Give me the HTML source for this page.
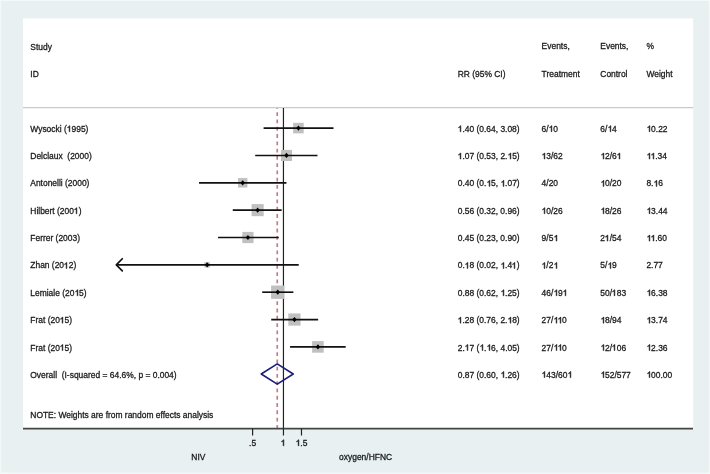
<!DOCTYPE html>
<html><head><meta charset="utf-8"><style>
html,body{margin:0;padding:0;width:710px;height:474px;overflow:hidden;background:#e8f0f2;}
svg{display:block;will-change:transform;}
tspan.o{fill-opacity:0;stroke-opacity:0;}
.one{fill:#1a1a1a;stroke:#1a1a1a;}
text{font-family:"Liberation Sans",sans-serif;font-size:8.45px;stroke:#1a1a1a;stroke-width:0.28px;}
</style></head><body>
<svg width="710" height="474" viewBox="0 0 710 474">
<rect x="0" y="0" width="710" height="474" fill="#e8f0f2"/>
<rect x="0" y="0" width="710" height="1" fill="#f4f8f9"/>
<rect x="0" y="472.5" width="710" height="1.5" fill="#f4f8f9"/>
<rect x="0" y="0" width="1.2" height="474" fill="#f4f8f9"/>
<rect x="709" y="0" width="1" height="474" fill="#f4f8f9"/>
<rect x="23" y="18.4" width="670.2" height="410" fill="#ffffff"/>
<line x1="23" y1="107.6" x2="693.2" y2="107.6" stroke="#cbcbcb" stroke-width="1.4"/>
<text x="30.30" y="49.60" text-anchor="start" fill="#1a1a1a">Study</text>
<text x="30.30" y="76.90" text-anchor="start" fill="#1a1a1a">ID</text>
<text x="457.70" y="76.60" text-anchor="start" fill="#1a1a1a">RR (95% CI)</text>
<text x="541.60" y="49.30" text-anchor="start" fill="#1a1a1a">Events,</text>
<text x="541.60" y="76.80" text-anchor="start" fill="#1a1a1a">Treatment</text>
<text x="600.30" y="49.30" text-anchor="start" fill="#1a1a1a">Events,</text>
<text x="600.30" y="76.80" text-anchor="start" fill="#1a1a1a">Control</text>
<text x="646.40" y="49.30" text-anchor="start" fill="#1a1a1a">%</text>
<text x="646.40" y="76.80" text-anchor="start" fill="#1a1a1a">Weight</text>
<line x1="283.45" y1="108" x2="283.45" y2="428.5" stroke="#222" stroke-width="1.2"/>
<line x1="277.25" y1="108" x2="277.25" y2="428" stroke="#c67c88" stroke-width="1.7" stroke-dasharray="3.8 3.47" stroke-dashoffset="2.97"/>
<rect x="293.15" y="122.83" width="10.55" height="10.55" fill="#c0c0c0"/>
<line x1="263.59" y1="128.10" x2="333.51" y2="128.10" stroke="#111" stroke-width="1.65"/>
<path d="M296.17,128.10 L298.42,125.50 L300.67,128.10 L298.42,130.70 Z" fill="#000"/>
<text x="30.30" y="131.70" text-anchor="start" fill="#1a1a1a">Wysocki (<tspan class="o">1</tspan>995)</text>
<text x="457.70" y="131.70" text-anchor="start" fill="#1a1a1a"><tspan class="o">1</tspan>.40 (0.64, 3.08)</text>
<text x="541.60" y="131.70" text-anchor="start" fill="#1a1a1a">6/<tspan class="o">1</tspan>0</text>
<text x="600.30" y="131.70" text-anchor="start" fill="#1a1a1a">6/<tspan class="o">1</tspan>4</text>
<text x="646.40" y="131.70" text-anchor="start" fill="#1a1a1a"><tspan class="o">1</tspan>0.22</text>
<rect x="280.90" y="149.89" width="11.11" height="11.11" fill="#c0c0c0"/>
<line x1="255.20" y1="155.45" x2="317.51" y2="155.45" stroke="#111" stroke-width="1.65"/>
<path d="M284.21,155.45 L286.46,152.85 L288.71,155.45 L286.46,158.05 Z" fill="#000"/>
<text x="30.30" y="159.05" text-anchor="start" fill="#1a1a1a">Delclaux  (2000)</text>
<text x="457.70" y="159.05" text-anchor="start" fill="#1a1a1a"><tspan class="o">1</tspan>.07 (0.53, 2.<tspan class="o">1</tspan>5)</text>
<text x="541.60" y="159.05" text-anchor="start" fill="#1a1a1a"><tspan class="o">1</tspan>3/62</text>
<text x="600.30" y="159.05" text-anchor="start" fill="#1a1a1a"><tspan class="o">1</tspan>2/6<tspan class="o">1</tspan></text>
<text x="646.40" y="159.05" text-anchor="start" fill="#1a1a1a"><tspan class="o">1</tspan><tspan class="o">1</tspan>.34</text>
<rect x="237.96" y="178.09" width="9.43" height="9.43" fill="#c0c0c0"/>
<line x1="199.03" y1="182.80" x2="286.46" y2="182.80" stroke="#111" stroke-width="1.65"/>
<path d="M240.43,182.80 L242.68,180.20 L244.93,182.80 L242.68,185.40 Z" fill="#000"/>
<text x="30.30" y="186.40" text-anchor="start" fill="#1a1a1a">Antonelli (2000)</text>
<text x="457.70" y="186.40" text-anchor="start" fill="#1a1a1a">0.40 (0.<tspan class="o">1</tspan>5, <tspan class="o">1</tspan>.07)</text>
<text x="541.60" y="186.40" text-anchor="start" fill="#1a1a1a">4/20</text>
<text x="600.30" y="186.40" text-anchor="start" fill="#1a1a1a"><tspan class="o">1</tspan>0/20</text>
<text x="646.40" y="186.40" text-anchor="start" fill="#1a1a1a">8.<tspan class="o">1</tspan>6</text>
<rect x="251.60" y="204.10" width="12.10" height="12.10" fill="#c0c0c0"/>
<line x1="232.75" y1="210.15" x2="281.63" y2="210.15" stroke="#111" stroke-width="1.65"/>
<path d="M255.40,210.15 L257.65,207.55 L259.90,210.15 L257.65,212.75 Z" fill="#000"/>
<text x="30.30" y="213.75" text-anchor="start" fill="#1a1a1a">Hilbert (200<tspan class="o">1</tspan>)</text>
<text x="457.70" y="213.75" text-anchor="start" fill="#1a1a1a">0.56 (0.32, 0.96)</text>
<text x="541.60" y="213.75" text-anchor="start" fill="#1a1a1a"><tspan class="o">1</tspan>0/26</text>
<text x="600.30" y="213.75" text-anchor="start" fill="#1a1a1a"><tspan class="o">1</tspan>8/26</text>
<text x="646.40" y="213.75" text-anchor="start" fill="#1a1a1a"><tspan class="o">1</tspan>3.44</text>
<rect x="242.30" y="231.88" width="11.24" height="11.24" fill="#c0c0c0"/>
<line x1="218.05" y1="237.50" x2="278.76" y2="237.50" stroke="#111" stroke-width="1.65"/>
<path d="M245.67,237.50 L247.92,234.90 L250.17,237.50 L247.92,240.10 Z" fill="#000"/>
<text x="30.30" y="241.10" text-anchor="start" fill="#1a1a1a">Ferrer (2003)</text>
<text x="457.70" y="241.10" text-anchor="start" fill="#1a1a1a">0.45 (0.23, 0.90)</text>
<text x="541.60" y="241.10" text-anchor="start" fill="#1a1a1a">9/5<tspan class="o">1</tspan></text>
<text x="600.30" y="241.10" text-anchor="start" fill="#1a1a1a">2<tspan class="o">1</tspan>/54</text>
<text x="646.40" y="241.10" text-anchor="start" fill="#1a1a1a"><tspan class="o">1</tspan><tspan class="o">1</tspan>.60</text>
<rect x="204.40" y="262.10" width="5.49" height="5.49" fill="#c0c0c0"/>
<polyline points="122.3,258.75 116.3,264.85 122.3,270.95" fill="none" stroke="#111" stroke-width="1.7" stroke-linejoin="round" stroke-linecap="round"/>
<line x1="116.30" y1="264.85" x2="298.74" y2="264.85" stroke="#111" stroke-width="1.65"/>
<path d="M204.89,264.85 L207.14,262.25 L209.39,264.85 L207.14,267.45 Z" fill="#000"/>
<text x="30.30" y="268.45" text-anchor="start" fill="#1a1a1a">Zhan (20<tspan class="o">1</tspan>2)</text>
<text x="457.70" y="268.45" text-anchor="start" fill="#1a1a1a">0.<tspan class="o">1</tspan>8 (0.02, <tspan class="o">1</tspan>.4<tspan class="o">1</tspan>)</text>
<text x="541.60" y="268.45" text-anchor="start" fill="#1a1a1a"><tspan class="o">1</tspan>/2<tspan class="o">1</tspan></text>
<text x="600.30" y="268.45" text-anchor="start" fill="#1a1a1a">5/<tspan class="o">1</tspan>9</text>
<text x="646.40" y="268.45" text-anchor="start" fill="#1a1a1a">2.77</text>
<rect x="271.08" y="285.52" width="13.36" height="13.36" fill="#c0c0c0"/>
<line x1="262.18" y1="292.20" x2="293.38" y2="292.20" stroke="#111" stroke-width="1.65"/>
<path d="M275.51,292.20 L277.76,289.60 L280.01,292.20 L277.76,294.80 Z" fill="#000"/>
<text x="30.30" y="295.80" text-anchor="start" fill="#1a1a1a">Lemiale (20<tspan class="o">1</tspan>5)</text>
<text x="457.70" y="295.80" text-anchor="start" fill="#1a1a1a">0.88 (0.62, <tspan class="o">1</tspan>.25)</text>
<text x="541.60" y="295.80" text-anchor="start" fill="#1a1a1a">46/<tspan class="o">1</tspan>9<tspan class="o">1</tspan></text>
<text x="600.30" y="295.80" text-anchor="start" fill="#1a1a1a">50/<tspan class="o">1</tspan>83</text>
<text x="646.40" y="295.80" text-anchor="start" fill="#1a1a1a"><tspan class="o">1</tspan>6.38</text>
<rect x="288.32" y="313.43" width="12.23" height="12.23" fill="#c0c0c0"/>
<line x1="271.24" y1="319.55" x2="318.13" y2="319.55" stroke="#111" stroke-width="1.65"/>
<path d="M292.19,319.55 L294.44,316.95 L296.69,319.55 L294.44,322.15 Z" fill="#000"/>
<text x="30.30" y="323.15" text-anchor="start" fill="#1a1a1a">Frat (20<tspan class="o">1</tspan>5)</text>
<text x="457.70" y="323.15" text-anchor="start" fill="#1a1a1a"><tspan class="o">1</tspan>.28 (0.76, 2.<tspan class="o">1</tspan>8)</text>
<text x="541.60" y="323.15" text-anchor="start" fill="#1a1a1a">27/<tspan class="o">1</tspan><tspan class="o">1</tspan>0</text>
<text x="600.30" y="323.15" text-anchor="start" fill="#1a1a1a"><tspan class="o">1</tspan>8/94</text>
<text x="646.40" y="323.15" text-anchor="start" fill="#1a1a1a"><tspan class="o">1</tspan>3.74</text>
<rect x="312.12" y="341.10" width="11.60" height="11.60" fill="#c0c0c0"/>
<line x1="290.05" y1="346.90" x2="345.69" y2="346.90" stroke="#111" stroke-width="1.65"/>
<path d="M315.68,346.90 L317.93,344.30 L320.18,346.90 L317.93,349.50 Z" fill="#000"/>
<text x="30.30" y="350.50" text-anchor="start" fill="#1a1a1a">Frat (20<tspan class="o">1</tspan>5)</text>
<text x="457.70" y="350.50" text-anchor="start" fill="#1a1a1a">2.<tspan class="o">1</tspan>7 (<tspan class="o">1</tspan>.<tspan class="o">1</tspan>6, 4.05)</text>
<text x="541.60" y="350.50" text-anchor="start" fill="#1a1a1a">27/<tspan class="o">1</tspan><tspan class="o">1</tspan>0</text>
<text x="600.30" y="350.50" text-anchor="start" fill="#1a1a1a"><tspan class="o">1</tspan>2/<tspan class="o">1</tspan>06</text>
<text x="646.40" y="350.50" text-anchor="start" fill="#1a1a1a"><tspan class="o">1</tspan>2.36</text>
<path d="M261.22,374.00 L277.25,363.80 L293.23,374.00 L277.25,384.20 Z" fill="none" stroke="#1c1c7c" stroke-width="1.6" stroke-linejoin="round"/>
<text x="30.30" y="377.60" text-anchor="start" fill="#1a1a1a">Overall  (I-squared = 64.6%, p = 0.004)</text>
<text x="457.70" y="377.60" text-anchor="start" fill="#1a1a1a">0.87 (0.60, <tspan class="o">1</tspan>.26)</text>
<text x="541.60" y="377.60" text-anchor="start" fill="#1a1a1a"><tspan class="o">1</tspan>43/60<tspan class="o">1</tspan></text>
<text x="600.30" y="377.60" text-anchor="start" fill="#1a1a1a"><tspan class="o">1</tspan>52/577</text>
<text x="646.40" y="377.60" text-anchor="start" fill="#1a1a1a"><tspan class="o">1</tspan>00.00</text>
<text x="30.30" y="417.50" text-anchor="start" fill="#1a1a1a">NOTE: Weights are from random effects analysis</text>
<line x1="23" y1="428.6" x2="693" y2="428.6" stroke="#444" stroke-width="1.7"/>
<line x1="252.60" y1="428.5" x2="252.60" y2="435.5" stroke="#222" stroke-width="1.2"/>
<text x="252.60" y="445.80" text-anchor="middle" fill="#1a1a1a">.5</text>
<line x1="283.45" y1="428.5" x2="283.45" y2="435.5" stroke="#222" stroke-width="1.2"/>
<text x="283.45" y="445.80" text-anchor="middle" fill="#1a1a1a"><tspan class="o">1</tspan></text>
<line x1="301.49" y1="428.5" x2="301.49" y2="435.5" stroke="#222" stroke-width="1.2"/>
<text x="301.49" y="445.80" text-anchor="middle" fill="#1a1a1a"><tspan class="o">1</tspan>.5</text>
<text x="198.40" y="459.80" text-anchor="middle" fill="#1a1a1a">NIV</text>
<text x="365.60" y="459.80" text-anchor="middle" fill="#1a1a1a">oxygen/HFNC</text>
<path class="one" stroke-width="121.2" transform="translate(66.72,131.70) scale(0.004126,-0.004126)" d="M763 0H583V1147Q518 1085 412.5 1023T223 930V1104Q374 1175 487 1276T647 1472H763V0Z"/>
<path class="one" stroke-width="121.2" transform="translate(457.72,131.70) scale(0.004126,-0.004126)" d="M763 0H583V1147Q518 1085 412.5 1023T223 930V1104Q374 1175 487 1276T647 1472H763V0Z"/>
<path class="one" stroke-width="121.2" transform="translate(548.72,131.70) scale(0.004126,-0.004126)" d="M763 0H583V1147Q518 1085 412.5 1023T223 930V1104Q374 1175 487 1276T647 1472H763V0Z"/>
<path class="one" stroke-width="121.2" transform="translate(607.72,131.70) scale(0.004126,-0.004126)" d="M763 0H583V1147Q518 1085 412.5 1023T223 930V1104Q374 1175 487 1276T647 1472H763V0Z"/>
<path class="one" stroke-width="121.2" transform="translate(646.72,131.70) scale(0.004126,-0.004126)" d="M763 0H583V1147Q518 1085 412.5 1023T223 930V1104Q374 1175 487 1276T647 1472H763V0Z"/>
<path class="one" stroke-width="121.2" transform="translate(457.72,159.05) scale(0.004126,-0.004126)" d="M763 0H583V1147Q518 1085 412.5 1023T223 930V1104Q374 1175 487 1276T647 1472H763V0Z"/>
<path class="one" stroke-width="121.2" transform="translate(507.72,159.05) scale(0.004126,-0.004126)" d="M763 0H583V1147Q518 1085 412.5 1023T223 930V1104Q374 1175 487 1276T647 1472H763V0Z"/>
<path class="one" stroke-width="121.2" transform="translate(541.72,159.05) scale(0.004126,-0.004126)" d="M763 0H583V1147Q518 1085 412.5 1023T223 930V1104Q374 1175 487 1276T647 1472H763V0Z"/>
<path class="one" stroke-width="121.2" transform="translate(600.72,159.05) scale(0.004126,-0.004126)" d="M763 0H583V1147Q518 1085 412.5 1023T223 930V1104Q374 1175 487 1276T647 1472H763V0Z"/>
<path class="one" stroke-width="121.2" transform="translate(616.72,159.05) scale(0.004126,-0.004126)" d="M763 0H583V1147Q518 1085 412.5 1023T223 930V1104Q374 1175 487 1276T647 1472H763V0Z"/>
<path class="one" stroke-width="121.2" transform="translate(646.72,159.05) scale(0.004126,-0.004126)" d="M763 0H583V1147Q518 1085 412.5 1023T223 930V1104Q374 1175 487 1276T647 1472H763V0Z"/>
<path class="one" stroke-width="121.2" transform="translate(650.72,159.05) scale(0.004126,-0.004126)" d="M763 0H583V1147Q518 1085 412.5 1023T223 930V1104Q374 1175 487 1276T647 1472H763V0Z"/>
<path class="one" stroke-width="121.2" transform="translate(486.72,186.40) scale(0.004126,-0.004126)" d="M763 0H583V1147Q518 1085 412.5 1023T223 930V1104Q374 1175 487 1276T647 1472H763V0Z"/>
<path class="one" stroke-width="121.2" transform="translate(500.72,186.40) scale(0.004126,-0.004126)" d="M763 0H583V1147Q518 1085 412.5 1023T223 930V1104Q374 1175 487 1276T647 1472H763V0Z"/>
<path class="one" stroke-width="121.2" transform="translate(600.72,186.40) scale(0.004126,-0.004126)" d="M763 0H583V1147Q518 1085 412.5 1023T223 930V1104Q374 1175 487 1276T647 1472H763V0Z"/>
<path class="one" stroke-width="121.2" transform="translate(653.72,186.40) scale(0.004126,-0.004126)" d="M763 0H583V1147Q518 1085 412.5 1023T223 930V1104Q374 1175 487 1276T647 1472H763V0Z"/>
<path class="one" stroke-width="121.2" transform="translate(73.72,213.75) scale(0.004126,-0.004126)" d="M763 0H583V1147Q518 1085 412.5 1023T223 930V1104Q374 1175 487 1276T647 1472H763V0Z"/>
<path class="one" stroke-width="121.2" transform="translate(541.72,213.75) scale(0.004126,-0.004126)" d="M763 0H583V1147Q518 1085 412.5 1023T223 930V1104Q374 1175 487 1276T647 1472H763V0Z"/>
<path class="one" stroke-width="121.2" transform="translate(600.72,213.75) scale(0.004126,-0.004126)" d="M763 0H583V1147Q518 1085 412.5 1023T223 930V1104Q374 1175 487 1276T647 1472H763V0Z"/>
<path class="one" stroke-width="121.2" transform="translate(646.72,213.75) scale(0.004126,-0.004126)" d="M763 0H583V1147Q518 1085 412.5 1023T223 930V1104Q374 1175 487 1276T647 1472H763V0Z"/>
<path class="one" stroke-width="121.2" transform="translate(553.72,241.10) scale(0.004126,-0.004126)" d="M763 0H583V1147Q518 1085 412.5 1023T223 930V1104Q374 1175 487 1276T647 1472H763V0Z"/>
<path class="one" stroke-width="121.2" transform="translate(604.72,241.10) scale(0.004126,-0.004126)" d="M763 0H583V1147Q518 1085 412.5 1023T223 930V1104Q374 1175 487 1276T647 1472H763V0Z"/>
<path class="one" stroke-width="121.2" transform="translate(646.72,241.10) scale(0.004126,-0.004126)" d="M763 0H583V1147Q518 1085 412.5 1023T223 930V1104Q374 1175 487 1276T647 1472H763V0Z"/>
<path class="one" stroke-width="121.2" transform="translate(650.72,241.10) scale(0.004126,-0.004126)" d="M763 0H583V1147Q518 1085 412.5 1023T223 930V1104Q374 1175 487 1276T647 1472H763V0Z"/>
<path class="one" stroke-width="121.2" transform="translate(63.72,268.45) scale(0.004126,-0.004126)" d="M763 0H583V1147Q518 1085 412.5 1023T223 930V1104Q374 1175 487 1276T647 1472H763V0Z"/>
<path class="one" stroke-width="121.2" transform="translate(464.72,268.45) scale(0.004126,-0.004126)" d="M763 0H583V1147Q518 1085 412.5 1023T223 930V1104Q374 1175 487 1276T647 1472H763V0Z"/>
<path class="one" stroke-width="121.2" transform="translate(500.72,268.45) scale(0.004126,-0.004126)" d="M763 0H583V1147Q518 1085 412.5 1023T223 930V1104Q374 1175 487 1276T647 1472H763V0Z"/>
<path class="one" stroke-width="121.2" transform="translate(511.72,268.45) scale(0.004126,-0.004126)" d="M763 0H583V1147Q518 1085 412.5 1023T223 930V1104Q374 1175 487 1276T647 1472H763V0Z"/>
<path class="one" stroke-width="121.2" transform="translate(541.72,268.45) scale(0.004126,-0.004126)" d="M763 0H583V1147Q518 1085 412.5 1023T223 930V1104Q374 1175 487 1276T647 1472H763V0Z"/>
<path class="one" stroke-width="121.2" transform="translate(553.72,268.45) scale(0.004126,-0.004126)" d="M763 0H583V1147Q518 1085 412.5 1023T223 930V1104Q374 1175 487 1276T647 1472H763V0Z"/>
<path class="one" stroke-width="121.2" transform="translate(607.72,268.45) scale(0.004126,-0.004126)" d="M763 0H583V1147Q518 1085 412.5 1023T223 930V1104Q374 1175 487 1276T647 1472H763V0Z"/>
<path class="one" stroke-width="121.2" transform="translate(74.72,295.80) scale(0.004126,-0.004126)" d="M763 0H583V1147Q518 1085 412.5 1023T223 930V1104Q374 1175 487 1276T647 1472H763V0Z"/>
<path class="one" stroke-width="121.2" transform="translate(500.72,295.80) scale(0.004126,-0.004126)" d="M763 0H583V1147Q518 1085 412.5 1023T223 930V1104Q374 1175 487 1276T647 1472H763V0Z"/>
<path class="one" stroke-width="121.2" transform="translate(553.72,295.80) scale(0.004126,-0.004126)" d="M763 0H583V1147Q518 1085 412.5 1023T223 930V1104Q374 1175 487 1276T647 1472H763V0Z"/>
<path class="one" stroke-width="121.2" transform="translate(562.72,295.80) scale(0.004126,-0.004126)" d="M763 0H583V1147Q518 1085 412.5 1023T223 930V1104Q374 1175 487 1276T647 1472H763V0Z"/>
<path class="one" stroke-width="121.2" transform="translate(611.72,295.80) scale(0.004126,-0.004126)" d="M763 0H583V1147Q518 1085 412.5 1023T223 930V1104Q374 1175 487 1276T647 1472H763V0Z"/>
<path class="one" stroke-width="121.2" transform="translate(646.72,295.80) scale(0.004126,-0.004126)" d="M763 0H583V1147Q518 1085 412.5 1023T223 930V1104Q374 1175 487 1276T647 1472H763V0Z"/>
<path class="one" stroke-width="121.2" transform="translate(59.72,323.15) scale(0.004126,-0.004126)" d="M763 0H583V1147Q518 1085 412.5 1023T223 930V1104Q374 1175 487 1276T647 1472H763V0Z"/>
<path class="one" stroke-width="121.2" transform="translate(457.72,323.15) scale(0.004126,-0.004126)" d="M763 0H583V1147Q518 1085 412.5 1023T223 930V1104Q374 1175 487 1276T647 1472H763V0Z"/>
<path class="one" stroke-width="121.2" transform="translate(507.72,323.15) scale(0.004126,-0.004126)" d="M763 0H583V1147Q518 1085 412.5 1023T223 930V1104Q374 1175 487 1276T647 1472H763V0Z"/>
<path class="one" stroke-width="121.2" transform="translate(553.72,323.15) scale(0.004126,-0.004126)" d="M763 0H583V1147Q518 1085 412.5 1023T223 930V1104Q374 1175 487 1276T647 1472H763V0Z"/>
<path class="one" stroke-width="121.2" transform="translate(557.72,323.15) scale(0.004126,-0.004126)" d="M763 0H583V1147Q518 1085 412.5 1023T223 930V1104Q374 1175 487 1276T647 1472H763V0Z"/>
<path class="one" stroke-width="121.2" transform="translate(600.72,323.15) scale(0.004126,-0.004126)" d="M763 0H583V1147Q518 1085 412.5 1023T223 930V1104Q374 1175 487 1276T647 1472H763V0Z"/>
<path class="one" stroke-width="121.2" transform="translate(646.72,323.15) scale(0.004126,-0.004126)" d="M763 0H583V1147Q518 1085 412.5 1023T223 930V1104Q374 1175 487 1276T647 1472H763V0Z"/>
<path class="one" stroke-width="121.2" transform="translate(59.72,350.50) scale(0.004126,-0.004126)" d="M763 0H583V1147Q518 1085 412.5 1023T223 930V1104Q374 1175 487 1276T647 1472H763V0Z"/>
<path class="one" stroke-width="121.2" transform="translate(464.72,350.50) scale(0.004126,-0.004126)" d="M763 0H583V1147Q518 1085 412.5 1023T223 930V1104Q374 1175 487 1276T647 1472H763V0Z"/>
<path class="one" stroke-width="121.2" transform="translate(479.72,350.50) scale(0.004126,-0.004126)" d="M763 0H583V1147Q518 1085 412.5 1023T223 930V1104Q374 1175 487 1276T647 1472H763V0Z"/>
<path class="one" stroke-width="121.2" transform="translate(486.72,350.50) scale(0.004126,-0.004126)" d="M763 0H583V1147Q518 1085 412.5 1023T223 930V1104Q374 1175 487 1276T647 1472H763V0Z"/>
<path class="one" stroke-width="121.2" transform="translate(553.72,350.50) scale(0.004126,-0.004126)" d="M763 0H583V1147Q518 1085 412.5 1023T223 930V1104Q374 1175 487 1276T647 1472H763V0Z"/>
<path class="one" stroke-width="121.2" transform="translate(557.72,350.50) scale(0.004126,-0.004126)" d="M763 0H583V1147Q518 1085 412.5 1023T223 930V1104Q374 1175 487 1276T647 1472H763V0Z"/>
<path class="one" stroke-width="121.2" transform="translate(600.72,350.50) scale(0.004126,-0.004126)" d="M763 0H583V1147Q518 1085 412.5 1023T223 930V1104Q374 1175 487 1276T647 1472H763V0Z"/>
<path class="one" stroke-width="121.2" transform="translate(611.72,350.50) scale(0.004126,-0.004126)" d="M763 0H583V1147Q518 1085 412.5 1023T223 930V1104Q374 1175 487 1276T647 1472H763V0Z"/>
<path class="one" stroke-width="121.2" transform="translate(646.72,350.50) scale(0.004126,-0.004126)" d="M763 0H583V1147Q518 1085 412.5 1023T223 930V1104Q374 1175 487 1276T647 1472H763V0Z"/>
<path class="one" stroke-width="121.2" transform="translate(500.72,377.60) scale(0.004126,-0.004126)" d="M763 0H583V1147Q518 1085 412.5 1023T223 930V1104Q374 1175 487 1276T647 1472H763V0Z"/>
<path class="one" stroke-width="121.2" transform="translate(541.72,377.60) scale(0.004126,-0.004126)" d="M763 0H583V1147Q518 1085 412.5 1023T223 930V1104Q374 1175 487 1276T647 1472H763V0Z"/>
<path class="one" stroke-width="121.2" transform="translate(567.72,377.60) scale(0.004126,-0.004126)" d="M763 0H583V1147Q518 1085 412.5 1023T223 930V1104Q374 1175 487 1276T647 1472H763V0Z"/>
<path class="one" stroke-width="121.2" transform="translate(600.72,377.60) scale(0.004126,-0.004126)" d="M763 0H583V1147Q518 1085 412.5 1023T223 930V1104Q374 1175 487 1276T647 1472H763V0Z"/>
<path class="one" stroke-width="121.2" transform="translate(646.72,377.60) scale(0.004126,-0.004126)" d="M763 0H583V1147Q518 1085 412.5 1023T223 930V1104Q374 1175 487 1276T647 1472H763V0Z"/>
<path class="one" stroke-width="121.2" transform="translate(280.72,445.80) scale(0.004126,-0.004126)" d="M763 0H583V1147Q518 1085 412.5 1023T223 930V1104Q374 1175 487 1276T647 1472H763V0Z"/>
<path class="one" stroke-width="121.2" transform="translate(295.72,445.80) scale(0.004126,-0.004126)" d="M763 0H583V1147Q518 1085 412.5 1023T223 930V1104Q374 1175 487 1276T647 1472H763V0Z"/>
</svg>
</body></html>
